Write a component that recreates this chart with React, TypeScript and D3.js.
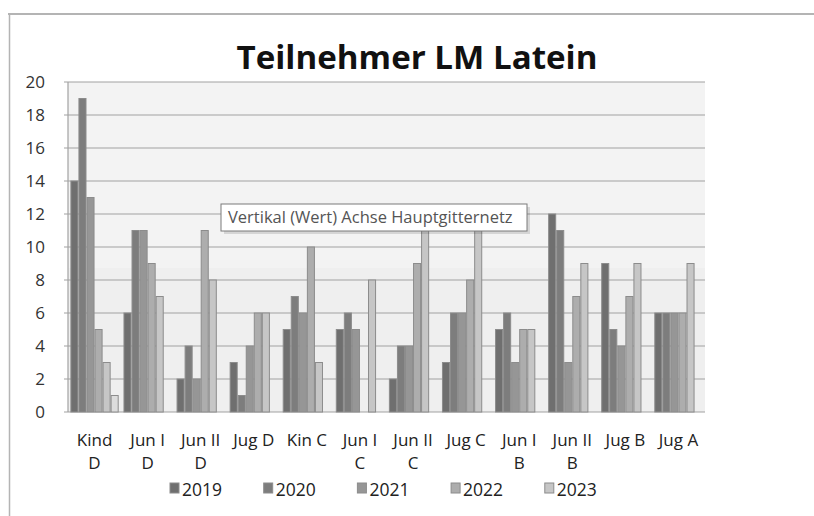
import React from 'react';
import * as d3 from 'd3';

const categories = ["Kind D", "Jun I D", "Jun II D", "Jug D", "Kin C", "Jun I C", "Jun II C", "Jug C", "Jun I B", "Jun II B", "Jug B", "Jug A"];
// how the category labels wrap in the reference
const labelLines = [["Kind", "D"], ["Jun I", "D"], ["Jun II", "D"], ["Jug D"], ["Kin C"], ["Jun I", "C"], ["Jun II", "C"], ["Jug C"], ["Jun I", "B"], ["Jun II", "B"], ["Jug B"], ["Jug A"]];

const seriesNames = ["2019", "2020", "2021", "2022", "2023", "2024"];
const v2019 = [14, 6, 2, 3, 5, 5, 2, 3, 5, 12, 9, 6];
const v2020 = [19, 11, 4, 1, 7, 6, 4, 6, 6, 11, 5, 6];
const v2021 = [13, 11, 2, 4, 6, 5, 4, 6, 3, 3, 4, 6];
const v2022 = [5, 9, 11, 6, 10, 0, 9, 8, 5, 7, 7, 6];
const v2023 = [3, 7, 8, 6, 3, 8, 11, 11, 5, 9, 9, 9];
const v2024 = [1, 0, 0, 0, 0, 0, 0, 0, 0, 0, 0, 0];
const seriesValues = [v2019, v2020, v2021, v2022, v2023, v2024];

// the reference legend only lists five entries
const legendNames = ["2019", "2020", "2021", "2022", "2023"];
const yTicks = [0, 2, 4, 6, 8, 10, 12, 14, 16, 18, 20];

const colors = ["#6f6f6f", "#7d7d7d", "#969696", "#adadad", "#c6c6c6", "#dcdcdc"];
const font = "'Open Sans', 'Noto Sans', sans-serif";

export default function App() {
  const W = 814, H = 516;
  const left = 68, right = 705, top = 82, bottom = 412;

  const x0 = d3.scaleBand<string>()
    .domain(categories)
    .range([left, right])
    .paddingInner(0.09)
    .paddingOuter(0.045);
  const x1 = d3.scaleBand<string>()
    .domain(seriesNames)
    .range([0, x0.bandwidth()]);
  const y = d3.scaleLinear().domain([0, 20]).range([bottom, top]);

  const blurEdge = 268;

  return (
    <div style={{ position: 'absolute', left: 0, top: 0 }}>
      <svg width={W} height={H} style={{ display: 'block', background: '#fff' }}>
        {/* chart frame */}
        <line x1={8} x2={W} y1={14} y2={14} stroke="#b4b4b4" strokeWidth={2} />
        <line x1={9.5} x2={9.5} y1={14} y2={H} stroke="#b4b4b4" strokeWidth={1.5} />

        <text x={417} y={69} textAnchor="middle" fontFamily={font} fontWeight={700}
          fontSize={33} textLength={361} lengthAdjust="spacingAndGlyphs" fill="#111">
          Teilnehmer LM Latein
        </text>

        {/* plot area (upper part is washed out in the screenshot) */}
        <rect x={left} y={top} width={right - left} height={bottom - top} fill="#efefef" />
        <rect x={left} y={top} width={right - left} height={blurEdge - top} fill="#f3f3f3" />

        {yTicks.map(t => (
          <g key={t}>
            <line x1={left - 4} x2={right} y1={y(t)} y2={y(t)} stroke="#a2a2a2" strokeWidth={1.2} />
            <text x={45} y={y(t)} dy="0.35em" textAnchor="end" fontFamily={font}
              fontSize={17} fill="#333">{t}</text>
          </g>
        ))}
        <line x1={left} x2={left} y1={top} y2={bottom} stroke="#a2a2a2" strokeWidth={1.2} />

        {categories.map((c, ci) => (
          <g key={c} transform={`translate(${x0(c)},0)`}>
            {seriesNames.map((s, si) => {
              const v = seriesValues[si][ci];
              if (!v) return null;
              return (
                <rect key={s} x={x1(s)! + 0.5} y={y(v)} width={x1.bandwidth() - 1}
                  height={y(0) - y(v)} fill={colors[si]} stroke="#8c8c8c" strokeWidth={1} />
              );
            })}
          </g>
        ))}

        {/* category labels */}
        {categories.map((c, ci) => (
          <text key={c} textAnchor="middle" fontFamily={font} fontSize={17} fill="#222">
            {labelLines[ci].map((ln, li) => (
              <tspan key={li} x={x0(c)! + x0.bandwidth() / 2} y={446 + li * 23}>{ln}</tspan>
            ))}
          </text>
        ))}

        {/* legend */}
        {legendNames.map((n, i) => {
          const lx = 170 + i * 93.7;
          return (
            <g key={n}>
              <rect x={lx} y={483} width={9} height={10} fill={colors[i]} stroke="#8c8c8c" strokeWidth={1} />
              <text x={lx + 12} y={496} fontFamily={font} fontSize={17.5} fill="#222">{n}</text>
            </g>
          );
        })}

        {/* hover tooltip from the screenshot */}
        <rect x={224} y={207} width={306} height={27} fill="#000" opacity={0.12} />
        <rect x={221} y={204} width={306} height={27} fill="#fff" stroke="#7a7a7a" strokeWidth={1} />
        <text x={228} y={223} fontFamily={font} fontSize={16.5} fill="#555">
          Vertikal (Wert) Achse Hauptgitternetz
        </text>
      </svg>
    </div>
  );
}
